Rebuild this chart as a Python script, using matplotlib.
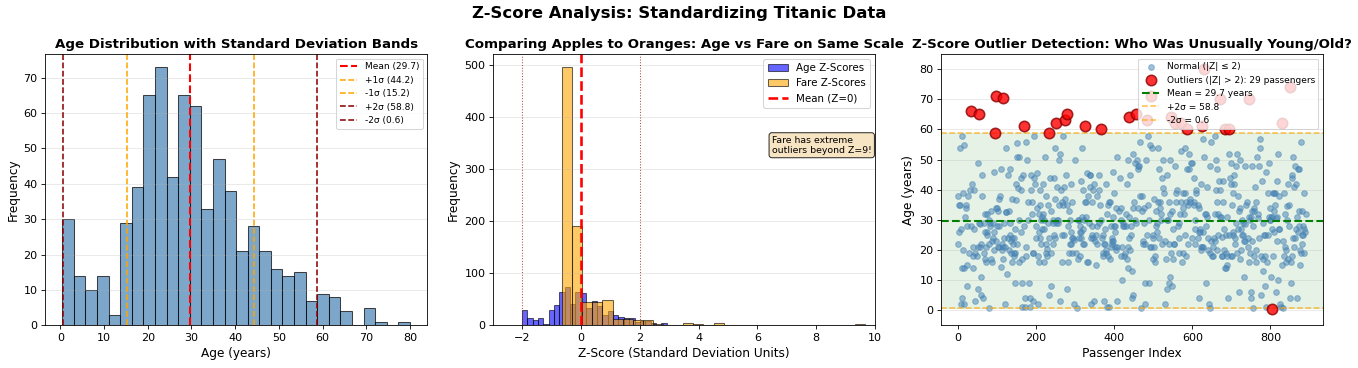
import numpy as np
import matplotlib
matplotlib.use("Agg")
import matplotlib.pyplot as plt

nan = float('nan')

# Titanic train.csv Age column, in passenger order (nan = missing)
ages = [
    22, 38, 26, 35, 35, nan, 54, 2, 27, 14, 4, 58, 20, 39, 14, 55, 2, nan, 31, nan,
    35, 34, 15, 28, 8, 38, nan, 19, nan, nan, 40, nan, nan, 66, 28, 42, nan, 21, 18, 14,
    40, 27, nan, 3, 19, nan, nan, nan, nan, 18, 7, 21, 49, 29, 65, nan, 21, 28.5, 5, 11,
    22, 38, 45, 4, nan, nan, 29, 19, 17, 26, 32, 16, 21, 26, 32, 25, nan, nan, 0.83, 30,
    22, 29, nan, 28, 17, 33, 16, nan, 23, 24, 29, 20, 46, 26, 59, nan, 71, 23, 34, 34,
    28, nan, 21, 33, 37, 28, 21, nan, 38, nan, 47, 14.5, 22, 20, 17, 21, 70.5, 29, 24, 2,
    21, nan, 32.5, 32.5, 54, 12, nan, 24, nan, 45, 33, 20, 47, 29, 25, 23, 19, 37, 16, 24,
    nan, 22, 24, 19, 18, 19, 27, 9, 36.5, 42, 51, 22, 55.5, 40.5, nan, 51, 16, 30, nan, nan,
    44, 40, 26, 17, 1, 9, nan, 45, nan, 28, 61, 4, 1, 21, 56, 18, nan, 50, 30, 36,
    nan, nan, 9, 1, 4, nan, nan, 45, 40, 36, 32, 19, 19, 3, 44, 58, nan, 42, nan, 24,
    28, nan, 34, 45.5, 18, 2, 32, 26, 16, 40, 24, 35, 22, 30, nan, 31, 27, 42, 32, 30,
    16, 27, 51, nan, 38, 22, 19, 20.5, 18, nan, 35, 29, 59, 5, 24, nan, 44, 8, 19, 33,
    nan, nan, 29, 22, 30, 44, 25, 24, 37, 54, nan, 29, 62, 30, 41, 29, nan, 30, 35, 50,
    nan, 3, 52, 40, nan, 36, 16, 25, 58, 35, nan, 25, 41, 37, nan, 63, 45, nan, 7, 35,
    65, 28, 16, 19, nan, 33, 30, 22, 42, 22, 26, 19, 36, 24, 24, nan, 23.5, 2, nan, 50,
    nan, nan, 19, nan, nan, 0.92, nan, 17, 30, 30, 24, 18, 26, 28, 43, 26, 24, 54, 31, 40,
    22, 27, 30, 22, nan, 36, 61, 36, 31, 16, nan, 45.5, 38, 16, nan, nan, 29, 41, 45, 45,
    2, 24, 28, 25, 36, 24, 40, nan, 3, 42, 23, nan, 15, 25, nan, 28, 22, 38, nan, nan,
    40, 29, 45, 35, nan, 30, 60, nan, nan, 24, 25, 18, 19, 22, 3, nan, 22, 27, 20, 19,
    42, 1, 32, 35, nan, 18, 1, 36, nan, 17, 36, 21, 28, 23, 24, 22, 31, 46, 23, 28,
    39, 26, 21, 28, 20, 34, 51, 3, 21, nan, nan, nan, 33, nan, 44, nan, 34, 18, 30, 10,
    nan, 21, 29, 28, 18, nan, 28, 19, nan, 32, 28, nan, 42, 17, 50, 14, 21, 24, 64, 31,
    45, 20, 25, 28, nan, 4, 13, 34, 5, 52, 36, nan, 30, 49, nan, 29, 65, nan, 50, nan,
    48, 34, 47, 48, nan, 38, nan, 56, nan, 0.75, nan, 38, 33, 23, 22, nan, 34, 29, 22, 2,
    9, nan, 50, 63, 25, nan, 35, 58, 30, 9, nan, 21, 55, 71, 21, nan, 54, nan, 25, 24,
    17, 21, nan, 37, 16, 18, 33, nan, 28, 26, 29, nan, 36, 54, 24, 47, 34, nan, 36, 32,
    30, 22, nan, 44, nan, 40.5, 50, nan, 39, 23, 2, nan, 17, nan, 30, 7, 45, 30, nan, 22,
    36, 9, 11, 32, 50, 64, 19, nan, 33, 8, 17, 27, nan, 22, 22, 62, 48, nan, 39, 36,
    nan, 40, 28, nan, nan, 24, 19, 29, nan, 32, 62, 53, 36, nan, 16, 19, 34, 39, nan, 32,
    25, 39, 54, 36, nan, 18, 47, 60, 22, nan, 35, 52, 47, nan, 37, 36, nan, 49, nan, 49,
    24, nan, nan, 44, 35, 36, 30, 27, 22, 40, 39, nan, nan, nan, 35, 24, 34, 26, 4, 26,
    27, 42, 20, 21, 21, 61, 57, 21, 26, nan, 80, 51, 32, nan, 9, 28, 32, 31, 41, nan,
    20, 24, 2, nan, 0.75, 48, 19, 56, nan, 23, nan, 18, 21, nan, 18, 24, nan, 32, 23, 58,
    50, 40, 47, 36, 20, 32, 25, nan, 43, nan, 40, 31, 70, 31, nan, 18, 24.5, 18, 43, 36,
    nan, 27, 20, 14, 60, 25, 14, 19, 18, 15, 31, 4, nan, 25, 60, 52, 44, nan, 49, 42,
    18, 35, 18, 25, 26, 39, 45, 42, 22, nan, 24, nan, 48, 29, 52, 19, 38, 27, nan, 33,
    6, 17, 34, 50, 27, 20, 30, nan, 25, 25, 29, 11, nan, 23, 23, 28.5, 48, 35, nan, nan,
    nan, 36, 21, 24, 31, 70, 16, 30, 19, 31, 4, 6, 33, 23, 48, 0.67, 28, 18, 34, 33,
    nan, 41, 20, 36, 16, 51, nan, 30.5, nan, 32, 24, 48, 57, nan, 54, 18, nan, 5, nan, 43,
    13, 17, 29, nan, 25, 25, 18, 8, 1, 46, nan, 16, nan, nan, 25, 39, 49, 31, 30, 30,
    34, 31, 11, 0.42, 27, 31, 39, 18, 39, 33, 26, 39, 35, 6, 30.5, nan, 23, 31, 43, 10,
    52, 27, 38, 27, 2, nan, nan, 1, nan, 62, 15, 0.83, nan, 23, 18, 39, 21, nan, 32, nan,
    20, 16, 30, 34.5, 17, 42, nan, 35, 28, nan, 4, 74, 9, 16, 44, 18, 45, 51, 24, nan,
    41, 21, 48, nan, 24, 42, 27, 31, nan, 4, 26, 47, 33, 47, 28, 15, 20, 19, nan, 56,
    25, 33, 22, 28, 25, 39, 27, 19, nan, 26, 32,
]

# histogram counts (30 bins each)
age_counts = [30, 14, 10, 14, 3, 29, 39, 65, 73, 42, 65, 62, 33, 47, 38,
              21, 28, 21, 16, 14, 15, 7, 9, 8, 4, 0, 5, 1, 0, 1]
fare_z_counts = [496, 191, 45, 46, 48, 13, 12, 11, 10, 3, 0, 1, 4, 3, 1,
                 4, 0, 0, 0, 0, 0, 0, 0, 0, 0, 0, 0, 0, 0, 3]
age_range = (0.42, 80.0)
fare_z_range = (-0.648, 9.662)
age_mean = 29.699
age_std = 14.526

plt.rcParams['font.family'] = ['DejaVu Sans']
plt.rcParams['xtick.labelsize'] = 10.7
plt.rcParams['ytick.labelsize'] = 10.7

fig, axes = plt.subplots(1, 3, figsize=(1358 / 75, 368 / 75), dpi=75)
fig.subplots_adjust(left=0.0331, right=0.9742, top=0.853, bottom=0.1155, wspace=0.1716)
fig.suptitle('Z-Score Analysis: Standardizing Titanic Data', fontsize=15.8, fontweight='bold', y=0.985)

# ---- panel 1: age histogram with sigma bands
ax = axes[0]
age_edges = np.linspace(age_range[0], age_range[1], 31)
ax.hist(age_edges[:-1], bins=age_edges, weights=age_counts, color='steelblue', alpha=0.7, edgecolor='black')
ax.axvline(age_mean, color='red', linestyle='--', linewidth=2, label=f'Mean ({age_mean:.1f})')
ax.axvline(age_mean + age_std, color='orange', linestyle='--', linewidth=1.5, label=f'+1σ ({age_mean + age_std:.1f})')
ax.axvline(age_mean - age_std, color='orange', linestyle='--', linewidth=1.5, label=f'-1σ ({age_mean - age_std:.1f})')
ax.axvline(age_mean + 2 * age_std, color='darkred', linestyle='--', linewidth=1.5, label=f'+2σ ({age_mean + 2 * age_std:.1f})')
ax.axvline(age_mean - 2 * age_std, color='darkred', linestyle='--', linewidth=1.5, label=f'-2σ ({age_mean - 2 * age_std:.1f})')
ax.set_title('Age Distribution with Standard Deviation Bands', fontsize=12.85, fontweight='bold')
ax.set_xlabel('Age (years)', fontsize=11.7)
ax.set_ylabel('Frequency', fontsize=11.7)
ax.legend(fontsize=8.6, loc='upper right')
ax.grid(axis='y', alpha=0.3)

# ---- panel 2: age vs fare z-scores
ax = axes[1]
age_z_edges = (age_edges - age_mean) / age_std
fare_z_edges = np.linspace(fare_z_range[0], fare_z_range[1], 31)
ax.hist(age_z_edges[:-1], bins=age_z_edges, weights=age_counts, color='blue', alpha=0.6, edgecolor='black', label='Age Z-Scores')
ax.hist(fare_z_edges[:-1], bins=fare_z_edges, weights=fare_z_counts, color='orange', alpha=0.6, edgecolor='black', label='Fare Z-Scores')
ax.axvline(0, color='red', linestyle='--', linewidth=2.5, label='Mean (Z=0)')
ax.axvline(2, color='darkred', linestyle=':', linewidth=1, alpha=0.7)
ax.axvline(-2, color='darkred', linestyle=':', linewidth=1, alpha=0.7)
ax.set_xlim(-3, 10)
ax.set_title('Comparing Apples to Oranges: Age vs Fare on Same Scale', fontsize=12.85, fontweight='bold')
ax.set_xlabel('Z-Score (Standard Deviation Units)', fontsize=11.7)
ax.set_ylabel('Frequency', fontsize=11.7)
ax.legend(fontsize=9.8, loc='upper right')
ax.grid(axis='y', alpha=0.3)
ax.text(0.73, 0.70, 'Fare has extreme\noutliers beyond Z=9!', transform=ax.transAxes, fontsize=9,
        va='top', ha='left', bbox=dict(boxstyle='round', facecolor='wheat', alpha=0.8))

# ---- panel 3: outlier scatter
ax = axes[2]
age_arr = np.array(ages, dtype=float)
idx = np.arange(len(age_arr))
ok = ~np.isnan(age_arr)
z = (age_arr - age_mean) / age_std
normal = ok & (np.abs(z) <= 2)
outl = ok & (np.abs(z) > 2)
ax.axhspan(age_mean - 2 * age_std, age_mean + 2 * age_std, color='green', alpha=0.1)
ax.scatter(idx[normal], age_arr[normal], s=30, alpha=0.5, color='steelblue', label='Normal (|Z| ≤ 2)')
ax.scatter(idx[outl], age_arr[outl], s=100, color='red', edgecolor='darkred', linewidth=1.5, alpha=0.8,
           label=f'Outliers (|Z| > 2): {outl.sum()} passengers', zorder=5)
ax.axhline(age_mean, color='green', linestyle='--', linewidth=2, label=f'Mean = {age_mean:.1f} years')
ax.axhline(age_mean + 2 * age_std, color='orange', linestyle='--', linewidth=1.5, alpha=0.7, label=f'+2σ = {age_mean + 2 * age_std:.1f}')
ax.axhline(age_mean - 2 * age_std, color='orange', linestyle='--', linewidth=1.5, alpha=0.7, label=f'-2σ = {age_mean - 2 * age_std:.1f}')
ax.set_ylim(-5, 85)
ax.set_title('Z-Score Outlier Detection: Who Was Unusually Young/Old?', fontsize=12.85, fontweight='bold')
ax.set_xlabel('Passenger Index', fontsize=11.7)
ax.set_ylabel('Age (years)', fontsize=11.7)
ax.legend(fontsize=8.6, loc='upper right')
ax.grid(axis='y', alpha=0.3)

fig.savefig('out.png', dpi=75)
